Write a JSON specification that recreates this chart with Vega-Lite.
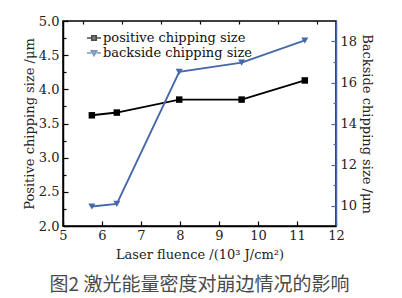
{
  "$schema": "https://vega.github.io/schema/vega-lite/v6.json",
  "width": 273,
  "height": 205,
  "autosize": "none",
  "padding": {"left": 63, "top": 21, "right": 66, "bottom": 72},
  "background": "#ffffff",
  "title": {"text": "图2  激光能量密度对崩边情况的影响", "orient": "bottom", "anchor": "middle", "font": "Noto Sans CJK SC", "fontSize": 19, "fontWeight": "normal", "color": "#4a4a4a", "offset": 15},
  "data": {"values": [
    {"fluence": 5.74, "positive": 3.62, "backside": 9.95},
    {"fluence": 6.38, "positive": 3.66, "backside": 10.08},
    {"fluence": 7.98, "positive": 3.85, "backside": 16.52},
    {"fluence": 9.58, "positive": 3.85, "backside": 16.97},
    {"fluence": 11.2, "positive": 4.13, "backside": 18.05}
  ]},
  "layer": [
    {
      "mark": {"type": "line", "color": "#000000", "strokeWidth": 1.9, "point": {"shape": "square", "filled": true, "size": 42, "color": "#000000"}},
      "encoding": {
        "x": {"field": "fluence", "type": "quantitative", "scale": {"domain": [5, 12], "nice": false, "zero": false},
              "axis": {"values": [5, 6, 7, 8, 9, 10, 11, 12], "title": "Laser fluence /(10³ J/cm²)", "tickSize": -5, "labelPadding": 8, "titlePadding": 6, "labelFlush": false}},
        "y": {"field": "positive", "type": "quantitative", "scale": {"domain": [2, 5], "nice": false, "zero": false},
              "axis": {"values": [2, 2.5, 3, 3.5, 4, 4.5, 5], "format": ".1f", "title": "Positive chipping size /μm", "orient": "left", "tickSize": -5, "labelPadding": 9, "titlePadding": 2, "labelFlush": false}}
      }
    },
    {
      "mark": {"type": "line", "color": "#4768a8", "strokeWidth": 1.9, "point": {"shape": "triangle-down", "filled": true, "size": 50, "color": "#4768a8"}},
      "encoding": {
        "x": {"field": "fluence", "type": "quantitative", "axis": null},
        "y": {"field": "backside", "type": "quantitative", "scale": {"domain": [9, 19], "nice": false, "zero": false},
              "axis": {"values": [10, 12, 14, 16, 18], "title": "Backside chipping size /μm", "orient": "right", "tickSize": -5, "labelPadding": 9, "titlePadding": 3, "domainColor": "#4768a8", "tickColor": "#4768a8", "labelFlush": false}}
      }
    },
    {
      "mark": {"type": "point", "opacity": 0},
      "encoding": {
        "x": {"field": "fluence", "type": "quantitative",
              "axis": {"values": [5.5, 6.5, 7.5, 8.5, 9.5, 10.5, 11.5], "labels": false, "domain": false, "title": null, "tickSize": -3}},
        "y": {"field": "positive", "type": "quantitative", "scale": {"domain": [2, 5], "nice": false, "zero": false},
              "axis": {"values": [2.25, 2.75, 3.25, 3.75, 4.25, 4.75], "orient": "left", "labels": false, "domain": false, "title": null, "tickSize": -3}}
      }
    },
    {
      "mark": {"type": "point", "opacity": 0},
      "encoding": {
        "x": {"field": "fluence", "type": "quantitative", "axis": null},
        "y": {"field": "backside", "type": "quantitative", "scale": {"domain": [9, 19], "nice": false, "zero": false},
              "axis": {"values": [11, 13, 15, 17], "orient": "right", "labels": false, "domain": false, "title": null, "tickSize": -3, "tickColor": "#4768a8"}}
      }
    },
    {
      "transform": [{"filter": "false"}],
      "mark": {"type": "point", "strokeWidth": 1.6},
      "encoding": {
        "fill": {"field": "series", "type": "nominal",
                 "scale": {"domain": ["positive chipping size", "backside chipping size"], "range": ["#000000", "#4768a8"]},
                 "legend": {"title": null, "orient": "none", "legendX": 23, "legendY": 9, "rowPadding": 0, "symbolSize": 196, "labelFont": "DejaVu Serif", "labelFontSize": 13, "labelColor": "#111111", "labelOffset": 1, "symbolStrokeWidth": 1.6}},
        "stroke": {"field": "series", "type": "nominal",
                   "scale": {"domain": ["positive chipping size", "backside chipping size"], "range": ["#000000", "#4768a8"]},
                   "legend": {"title": null, "orient": "none", "legendX": 23, "legendY": 9, "rowPadding": 0, "symbolSize": 196, "labelFont": "DejaVu Serif", "labelFontSize": 13, "labelColor": "#111111", "labelOffset": 1, "symbolStrokeWidth": 1.6}},
        "shape": {"field": "series", "type": "nominal",
                  "scale": {"domain": ["positive chipping size", "backside chipping size"], "range": ["M-1,0H-0.32M0.32,0H1M-0.32,-0.32H0.32V0.32H-0.32Z", "M-1,0H-0.38M0.38,0H1M-0.38,-0.3L0.38,-0.3L0,0.38Z"]},
                  "legend": {"title": null, "orient": "none", "legendX": 23, "legendY": 9, "rowPadding": 0, "symbolSize": 196, "labelFont": "DejaVu Serif", "labelFontSize": 13, "labelColor": "#111111", "labelOffset": 1, "symbolStrokeWidth": 1.6}}
      }
    }
  ],
  "resolve": {"scale": {"y": "independent"}, "axis": {"x": "independent", "y": "independent"}},
  "config": {
    "view": {"stroke": "#000000", "strokeWidth": 1.5},
    "axis": {"labelFont": "DejaVu Serif", "titleFont": "DejaVu Serif", "labelFontSize": 13, "titleFontSize": 13, "titleFontWeight": "normal", "labelColor": "#222222", "titleColor": "#222222", "grid": false, "tickColor": "#000000", "domainColor": "#000000", "domainWidth": 1.5, "tickWidth": 1.2}
  }
}
